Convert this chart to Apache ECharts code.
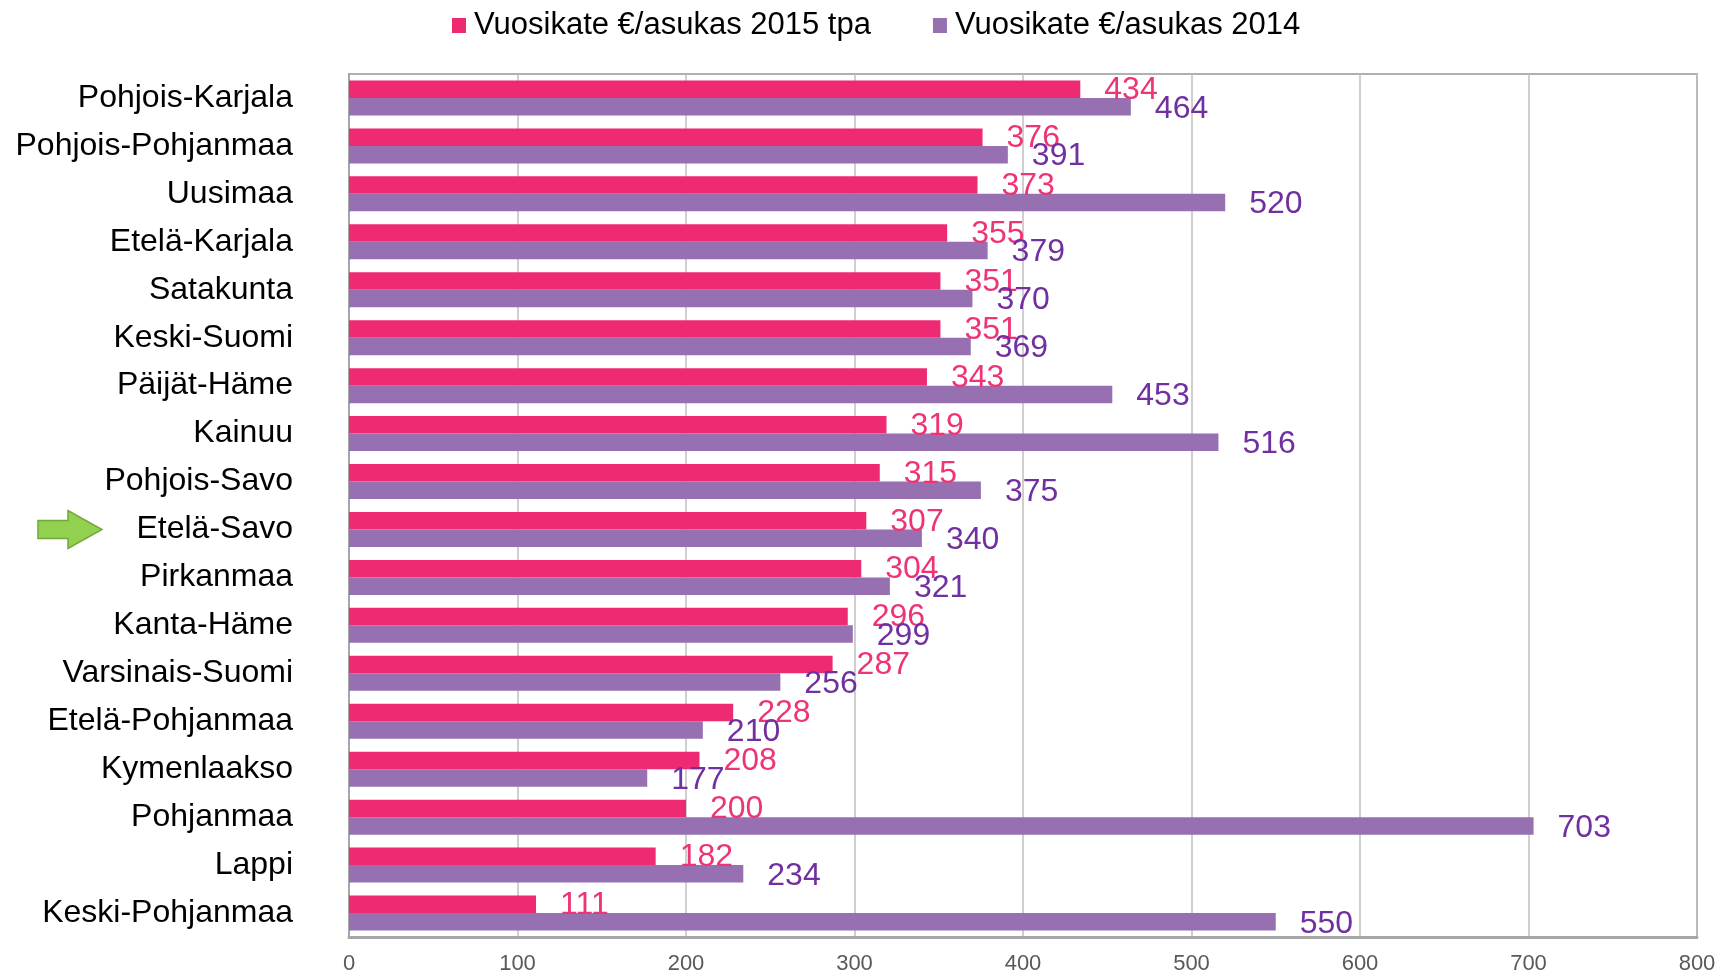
<!DOCTYPE html>
<html>
<head>
<meta charset="utf-8">
<script src="https://cdn.jsdelivr.net/npm/echarts@6/dist/echarts.min.js"></script>
<style>
html,body{margin:0;padding:0;background:#fff;}
#c{width:1727px;height:976px;}
</style>
</head>
<body>
<div id="c"></div>
<script>
const categories = ["Pohjois-Karjala","Pohjois-Pohjanmaa","Uusimaa","Etelä-Karjala","Satakunta","Keski-Suomi","Päijät-Häme","Kainuu","Pohjois-Savo","Etelä-Savo","Pirkanmaa","Kanta-Häme","Varsinais-Suomi","Etelä-Pohjanmaa","Kymenlaakso","Pohjanmaa","Lappi","Keski-Pohjanmaa"];
const values2015 = [434,376,373,355,351,351,343,319,315,307,304,296,287,228,208,200,182,111];
const values2014 = [464,391,520,379,370,369,453,516,375,340,321,299,256,210,177,703,234,550];
const seriesNames = ["Vuosikate €/asukas 2015 tpa","Vuosikate €/asukas 2014"];
const xTicks = [0,100,200,300,400,500,600,700,800];
const highlighted = "Etelä-Savo";

const FONT = "'Liberation Sans', Arial, sans-serif";
const chart = echarts.init(document.getElementById('c'));
const option = {
  animation: false,
  textStyle: {fontFamily: FONT},
  legend: {
    left: 447, top: 5,
    itemWidth: 14, itemHeight: 15, itemGap: 62,
    icon: 'rect',
    textStyle: {fontSize: 31, color: '#000', fontFamily: FONT, padding: [0,0,0,3]},
    data: seriesNames
  },
  grid: {left: 349, right: 30, top: 74, bottom: 39, show: true, borderColor: '#B0B0B0', borderWidth: 2},
  xAxis: {
    type: 'value', min: 0, max: 800, interval: 100,
    axisLine: {show: true, lineStyle: {color: '#A6A6A6', width: 3}},
    axisTick: {show: false},
    splitLine: {show: true, lineStyle: {color: '#BFBFBF', width: 1.5}},
    axisLabel: {fontSize: 22, color: '#595959', margin: 16, fontFamily: FONT,
      formatter: v => xTicks.includes(v) ? String(v) : ''}
  },
  yAxis: {
    type: 'category', inverse: true, data: categories,
    axisLine: {show: true, lineStyle: {color: '#A6A6A6', width: 2}},
    axisTick: {show: false},
    axisLabel: {fontSize: 32, color: '#000', margin: 56, fontFamily: FONT}
  },
  series: [
    {
      name: seriesNames[0], type: 'bar', data: values2015,
      barGap: '0%', barCategoryGap: '27%',
      itemStyle: {color: '#EE2B72'},
      label: {show: true, position: 'right', distance: 24, fontSize: 32, color: '#EE3377', fontFamily: FONT, offset: [0, 1]}
    },
    {
      name: seriesNames[1], type: 'bar', data: values2014,
      barGap: '0%', barCategoryGap: '27%',
      itemStyle: {color: '#9670B1'},
      label: {show: true, position: 'right', distance: 24, fontSize: 32, color: '#7030A0', fontFamily: FONT, offset: [0, 2]}
    }
  ]
};
chart.setOption(option);

// green arrow annotation pointing at the highlighted category
const yc = chart.convertToPixel({yAxisIndex: 0}, highlighted);
const pts = [[0,-9],[30,-9],[30,-19],[64,0],[30,19],[30,9],[0,9]];
chart.setOption({
  graphic: [{
    type: 'polygon', x: 38, y: yc,
    shape: {points: pts},
    style: {fill: '#92D050', stroke: '#71A83A', lineWidth: 1.5}
  }]
});
</script>
</body>
</html>
